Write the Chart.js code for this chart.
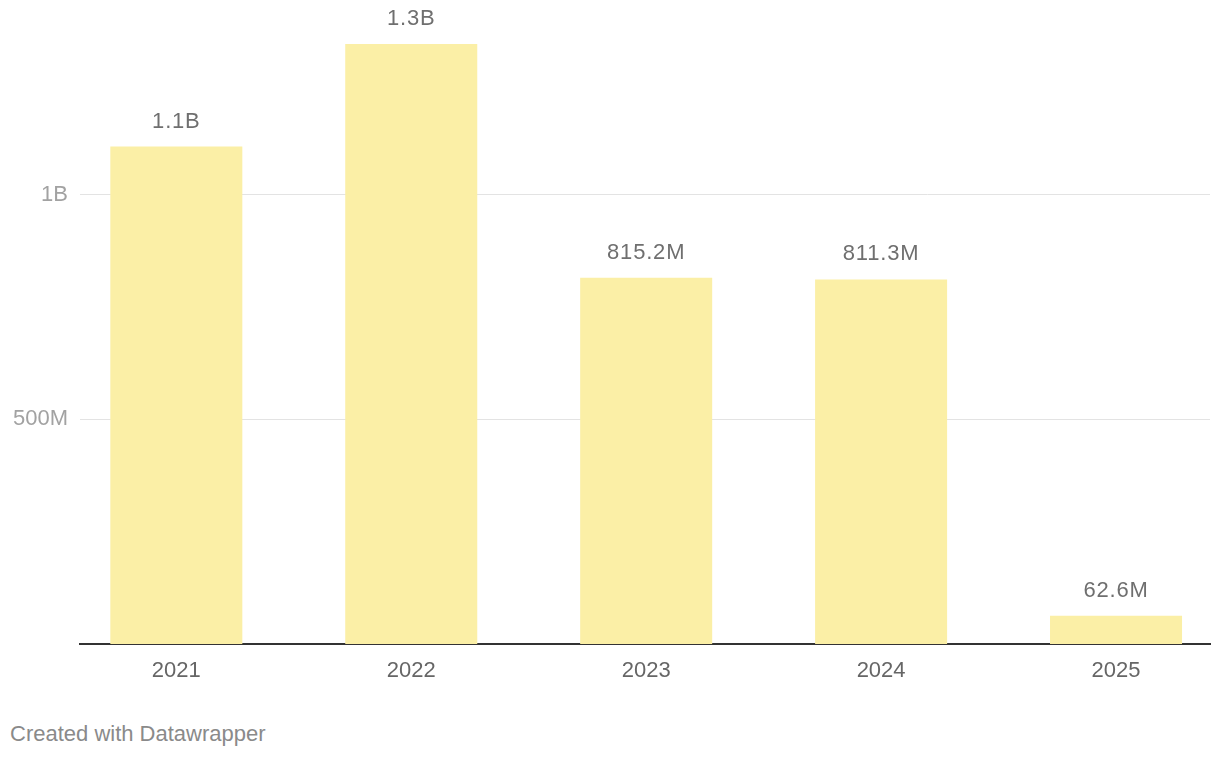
<!DOCTYPE html>
<html>
<head>
<meta charset="utf-8">
<script src="https://cdn.jsdelivr.net/npm/chart.js@4"></script>
<style>
    html, body { margin: 0; padding: 0; background: #fff; width: 1220px; height: 758px; overflow: hidden; }
    #wrap { position: absolute; left: 0; top: 0; width: 1220px; height: 702px; }
    #footer {
        position: absolute; left: 10px; top: 721px;
        font-family: "Liberation Sans", Arial, sans-serif; font-size: 22px; color: #8a8a8a;
    }
</style>
</head>
<body>
<div id="wrap"><canvas id="chart"></canvas></div>
<div id="footer">Created with Datawrapper</div>
<script>
// Chart data
const years = [2021, 2022, 2023, 2024, 2025];
const values = [1107000000, 1335000000, 815200000, 811300000, 62600000];
const valueLabels = ['1.1B', '1.3B', '815.2M', '811.3M', '62.6M'];
const yTicks = [500000000, 1000000000];
const yTickLabels = ['500M', '1B'];

const FONT = '"Liberation Sans", Arial, sans-serif';

// Draw the value above each bar
const barLabels = {
    id: 'barLabels',
    afterDatasetsDraw(chart) {
        const ctx = chart.ctx;
        const meta = chart.getDatasetMeta(0);
        ctx.save();
        ctx.font = '22px ' + FONT;
        ctx.letterSpacing = '0.8px';
        ctx.fillStyle = '#6f6f6f';
        ctx.textAlign = 'center';
        ctx.textBaseline = 'bottom';
        meta.data.forEach((bar, i) => {
            ctx.fillText(valueLabels[i], bar.x, bar.y - 14);
        });
        ctx.restore();
    }
};

const ctx = document.getElementById('chart').getContext('2d');
new Chart(ctx, {
    type: 'bar',
    data: {
        datasets: [{
            data: years.map((y, i) => ({ x: y, y: values[i] })),
            backgroundColor: '#fbefa6',
            borderWidth: 0,
            barPercentage: 0.562,
            categoryPercentage: 1
        }]
    },
    options: {
        responsive: true,
        maintainAspectRatio: false,
        animation: false,
        layout: { padding: { top: 6, left: 0, right: 10, bottom: 0 } },
        plugins: {
            legend: { display: false },
            tooltip: { enabled: false }
        },
        scales: {
            x: {
                type: 'linear',
                offset: false,
                min: 2020.59,
                max: 2025.4,
                afterBuildTicks: scale => { scale.ticks = years.map(v => ({ value: v })); },
                afterFit: scale => { scale.height = 58; },
                grid: { display: false, drawTicks: false, offset: false },
                border: { display: true, color: '#333333', width: 2 },
                ticks: {
                    padding: 14,
                    color: '#666666',
                    font: { family: FONT, size: 22 },
                    callback: v => String(v)
                }
            },
            y: {
                min: 0,
                max: 1377000000,
                afterBuildTicks: scale => { scale.ticks = yTicks.map(v => ({ value: v })); },
                afterFit: scale => { scale.width = 80; },
                grid: { color: '#e3e3e3', lineWidth: 1, drawTicks: false },
                border: { display: false },
                ticks: {
                    padding: 12,
                    color: '#a2a2a2',
                    font: { family: FONT, size: 22 },
                    callback: v => yTickLabels[yTicks.indexOf(v)]
                }
            }
        }
    },
    plugins: [barLabels]
});
</script>
</body>
</html>
